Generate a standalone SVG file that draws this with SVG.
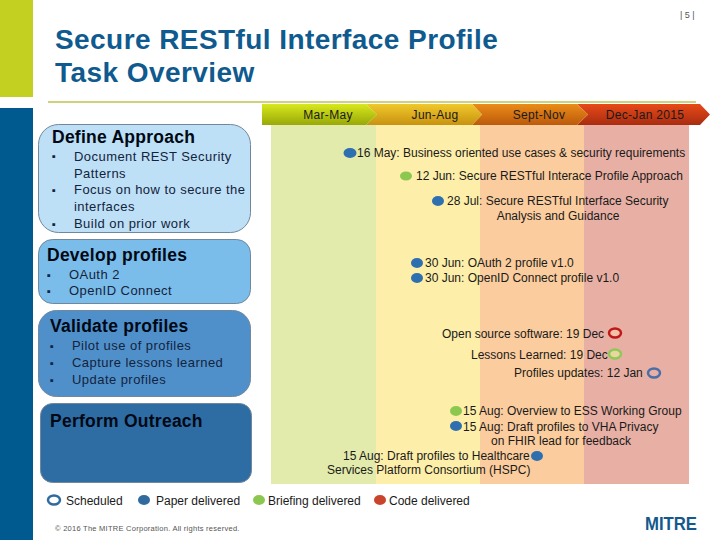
<svg xmlns="http://www.w3.org/2000/svg" width="720" height="540" viewBox="0 0 720 540">
<style>
text{font-family:"Liberation Sans",Arial,sans-serif;fill:#1a1a1a}
.t{font-size:12px}
.c{font-size:12px;letter-spacing:.3px}
.b{font-size:13px;fill:#14233c;letter-spacing:.45px}
.d{font-size:11px;fill:#14233c}
.h{font-size:17.5px;font-weight:bold;fill:#000814;letter-spacing:.25px}
.title{font-size:28px;font-weight:bold;fill:#0f5a8e;letter-spacing:.43px}
.box{stroke:#71879c;stroke-width:1}
.m{text-anchor:middle}
</style>
<defs>
<linearGradient id="g1" x1="0" y1="0" x2="0" y2="1"><stop offset="0" stop-color="#d8e81c"/><stop offset="1" stop-color="#98a808"/></linearGradient>
<linearGradient id="g2" x1="0" y1="0" x2="0" y2="1"><stop offset="0" stop-color="#f0c82c"/><stop offset="1" stop-color="#c89210"/></linearGradient>
<linearGradient id="g3" x1="0" y1="0" x2="0" y2="1"><stop offset="0" stop-color="#ea8c18"/><stop offset="1" stop-color="#bc5a0c"/></linearGradient>
<linearGradient id="g4" x1="0" y1="0" x2="0" y2="1"><stop offset="0" stop-color="#e84a18"/><stop offset="1" stop-color="#a82c10"/></linearGradient>
</defs>
<rect width="720" height="540" fill="#fff"/>
<rect x="0" y="0" width="33" height="97" fill="#c3cf21"/>
<rect x="0" y="108" width="33" height="432" fill="#005a8f"/>
<rect x="48" y="101" width="648" height="2" fill="#cfd27a"/>
<text x="680" y="18" font-size="9" style="fill:#555">| 5 |</text>
<text class="title" x="55" y="49">Secure RESTful Interface Profile</text>
<text class="title" x="55" y="82">Task Overview</text>

<g id="columns">
<rect x="271" y="125" width="105" height="359" fill="#e2ebab"/>
<rect x="376" y="125" width="104" height="359" fill="#fdefa9"/>
<rect x="480" y="125" width="104" height="359" fill="#fbcd9e"/>
<rect x="584" y="125" width="105" height="359" fill="#e8b0a4"/>
</g>
<g id="timeline">
<path d="M577 104H700L710 114.500L700 125H577L588 114.500Z" fill="url(#g4)"/>
<path d="M472 104H577L588 114.500L577 125H472L482 114.500Z" fill="url(#g3)"/>
<path d="M366 104H472L482 114.500L472 125H366L377 114.500Z" fill="url(#g2)"/>
<path d="M262 104H366L377 114.500L366 125H262Z" fill="url(#g1)"/>
<text class="c m" x="328" y="119">Mar-May</text>
<text class="c m" x="435" y="119">Jun-Aug</text>
<text class="c m" x="539" y="119">Sept-Nov</text>
<text class="c m" x="645" y="119">Dec-Jan 2015</text>
</g>

<g id="define-approach">
<rect class="box" x="38.500" y="124.500" width="212" height="108" rx="20" fill="#bde0f6"/>
<text class="h" x="52" y="143">Define Approach</text>
<text class="d" x="52" y="160">▪</text><text class="b" x="74" y="161">Document REST Security</text>
<text class="b" x="74" y="178">Patterns</text>
<text class="d" x="52" y="194">▪</text><text class="b" x="74" y="194">Focus on how to secure the</text>
<text class="b" x="74" y="211">interfaces</text>
<text class="d" x="52" y="228">▪</text><text class="b" x="74" y="228">Build on prior work</text>
</g>
<g id="develop-profiles">
<rect class="box" x="38.500" y="239.500" width="212" height="64" rx="14" fill="#7bbdea"/>
<text class="h" x="47" y="261">Develop profiles</text>
<text class="d" x="47" y="279">▪</text><text class="b" x="69" y="279">OAuth 2</text>
<text class="d" x="47" y="295">▪</text><text class="b" x="69" y="295">OpenID Connect</text>
</g>
<g id="validate-profiles">
<rect class="box" x="38.500" y="310.500" width="212" height="86" rx="18" fill="#4f90cb"/>
<text class="h" x="50" y="332">Validate profiles</text>
<text class="d" x="50" y="350">▪</text><text class="b" x="72" y="350">Pilot use of profiles</text>
<text class="d" x="50" y="367">▪</text><text class="b" x="72" y="367">Capture lessons learned</text>
<text class="d" x="50" y="384">▪</text><text class="b" x="72" y="384">Update profiles</text>
</g>
<g id="perform-outreach">
<rect class="box" x="40.500" y="403.500" width="211" height="79" rx="12" fill="#2e6ca4"/>
<text class="h" x="50" y="427">Perform Outreach</text>
</g>

<g id="milestones">
<ellipse cx="350" cy="153" rx="6.500" ry="5" fill="#2e6fb0"/>
<text class="t" x="357" y="157">16 May: Business oriented use cases &amp; security requirements</text>
<ellipse cx="406" cy="176" rx="6" ry="4.500" fill="#8cc850"/>
<text class="t" x="416" y="180">12 Jun: Secure RESTful Interace Profile Approach</text>
<ellipse cx="438" cy="201" rx="6" ry="5" fill="#2e6fb0"/>
<text class="t" x="447" y="205">28 Jul: Secure RESTful Interface Security</text>
<text class="t m" x="558" y="220">Analysis and Guidance</text>
<ellipse cx="417" cy="263" rx="6" ry="5" fill="#2e6fb0"/>
<text class="t" x="425" y="267">30 Jun: OAuth 2 profile v1.0</text>
<ellipse cx="417" cy="278" rx="6" ry="5" fill="#2e6fb0"/>
<text class="t" x="425" y="282">30 Jun: OpenID Connect profile v1.0</text>
<text class="t" x="442" y="338">Open source software: 19 Dec</text>
<ellipse cx="615" cy="333" rx="6" ry="4.500" fill="#f3c0a8" stroke="#c01818" stroke-width="2.500"/>
<text class="t" x="471" y="359">Lessons Learned: 19 Dec</text>
<ellipse cx="615" cy="354" rx="6" ry="4.500" fill="#e8d8a0" stroke="#90c858" stroke-width="2.500"/>
<text class="t" x="514" y="377">Profiles updates: 12 Jan</text>
<ellipse cx="654" cy="373" rx="6" ry="4.500" fill="#e8b0a4" stroke="#4a6ea8" stroke-width="2.500"/>
<ellipse cx="456" cy="411" rx="6" ry="5" fill="#8cc850"/>
<text class="t" x="463" y="415">15 Aug: Overview to ESS Working Group</text>
<ellipse cx="456" cy="426" rx="6" ry="5" fill="#2e6fb0"/>
<text class="t" x="463" y="431">15 Aug: Draft profiles to VHA Privacy</text>
<text class="t m" x="561" y="445">on FHIR lead for feedback</text>
<text class="t" x="343" y="460">15 Aug: Draft profiles to Healthcare</text>
<ellipse cx="537" cy="456" rx="6" ry="5" fill="#2e6fb0"/>
<text class="t" x="327" y="474">Services Platform Consortium (HSPC)</text>
</g>

<g id="legend">
<ellipse cx="54" cy="500" rx="6" ry="4.500" fill="#fff" stroke="#2f6b9e" stroke-width="2.500"/>
<text class="t" x="66" y="505">Scheduled</text>
<ellipse cx="144" cy="500" rx="6" ry="5" fill="#2f6b9e"/>
<text class="t" x="156" y="505">Paper delivered</text>
<ellipse cx="259" cy="500" rx="6" ry="5" fill="#8cc850"/>
<text class="t" x="268" y="505">Briefing delivered</text>
<ellipse cx="380" cy="500" rx="6" ry="5" fill="#c8442a"/>
<text class="t" x="389" y="505">Code delivered</text>
</g>
<text x="55" y="531" font-size="7.500" letter-spacing=".26" style="fill:#555">© 2016 The MITRE Corporation. All rights reserved.</text>
<text x="645" y="530" font-size="18" font-weight="bold" textLength="52" lengthAdjust="spacingAndGlyphs" style="fill:#14598c">MITRE</text>
</svg>
